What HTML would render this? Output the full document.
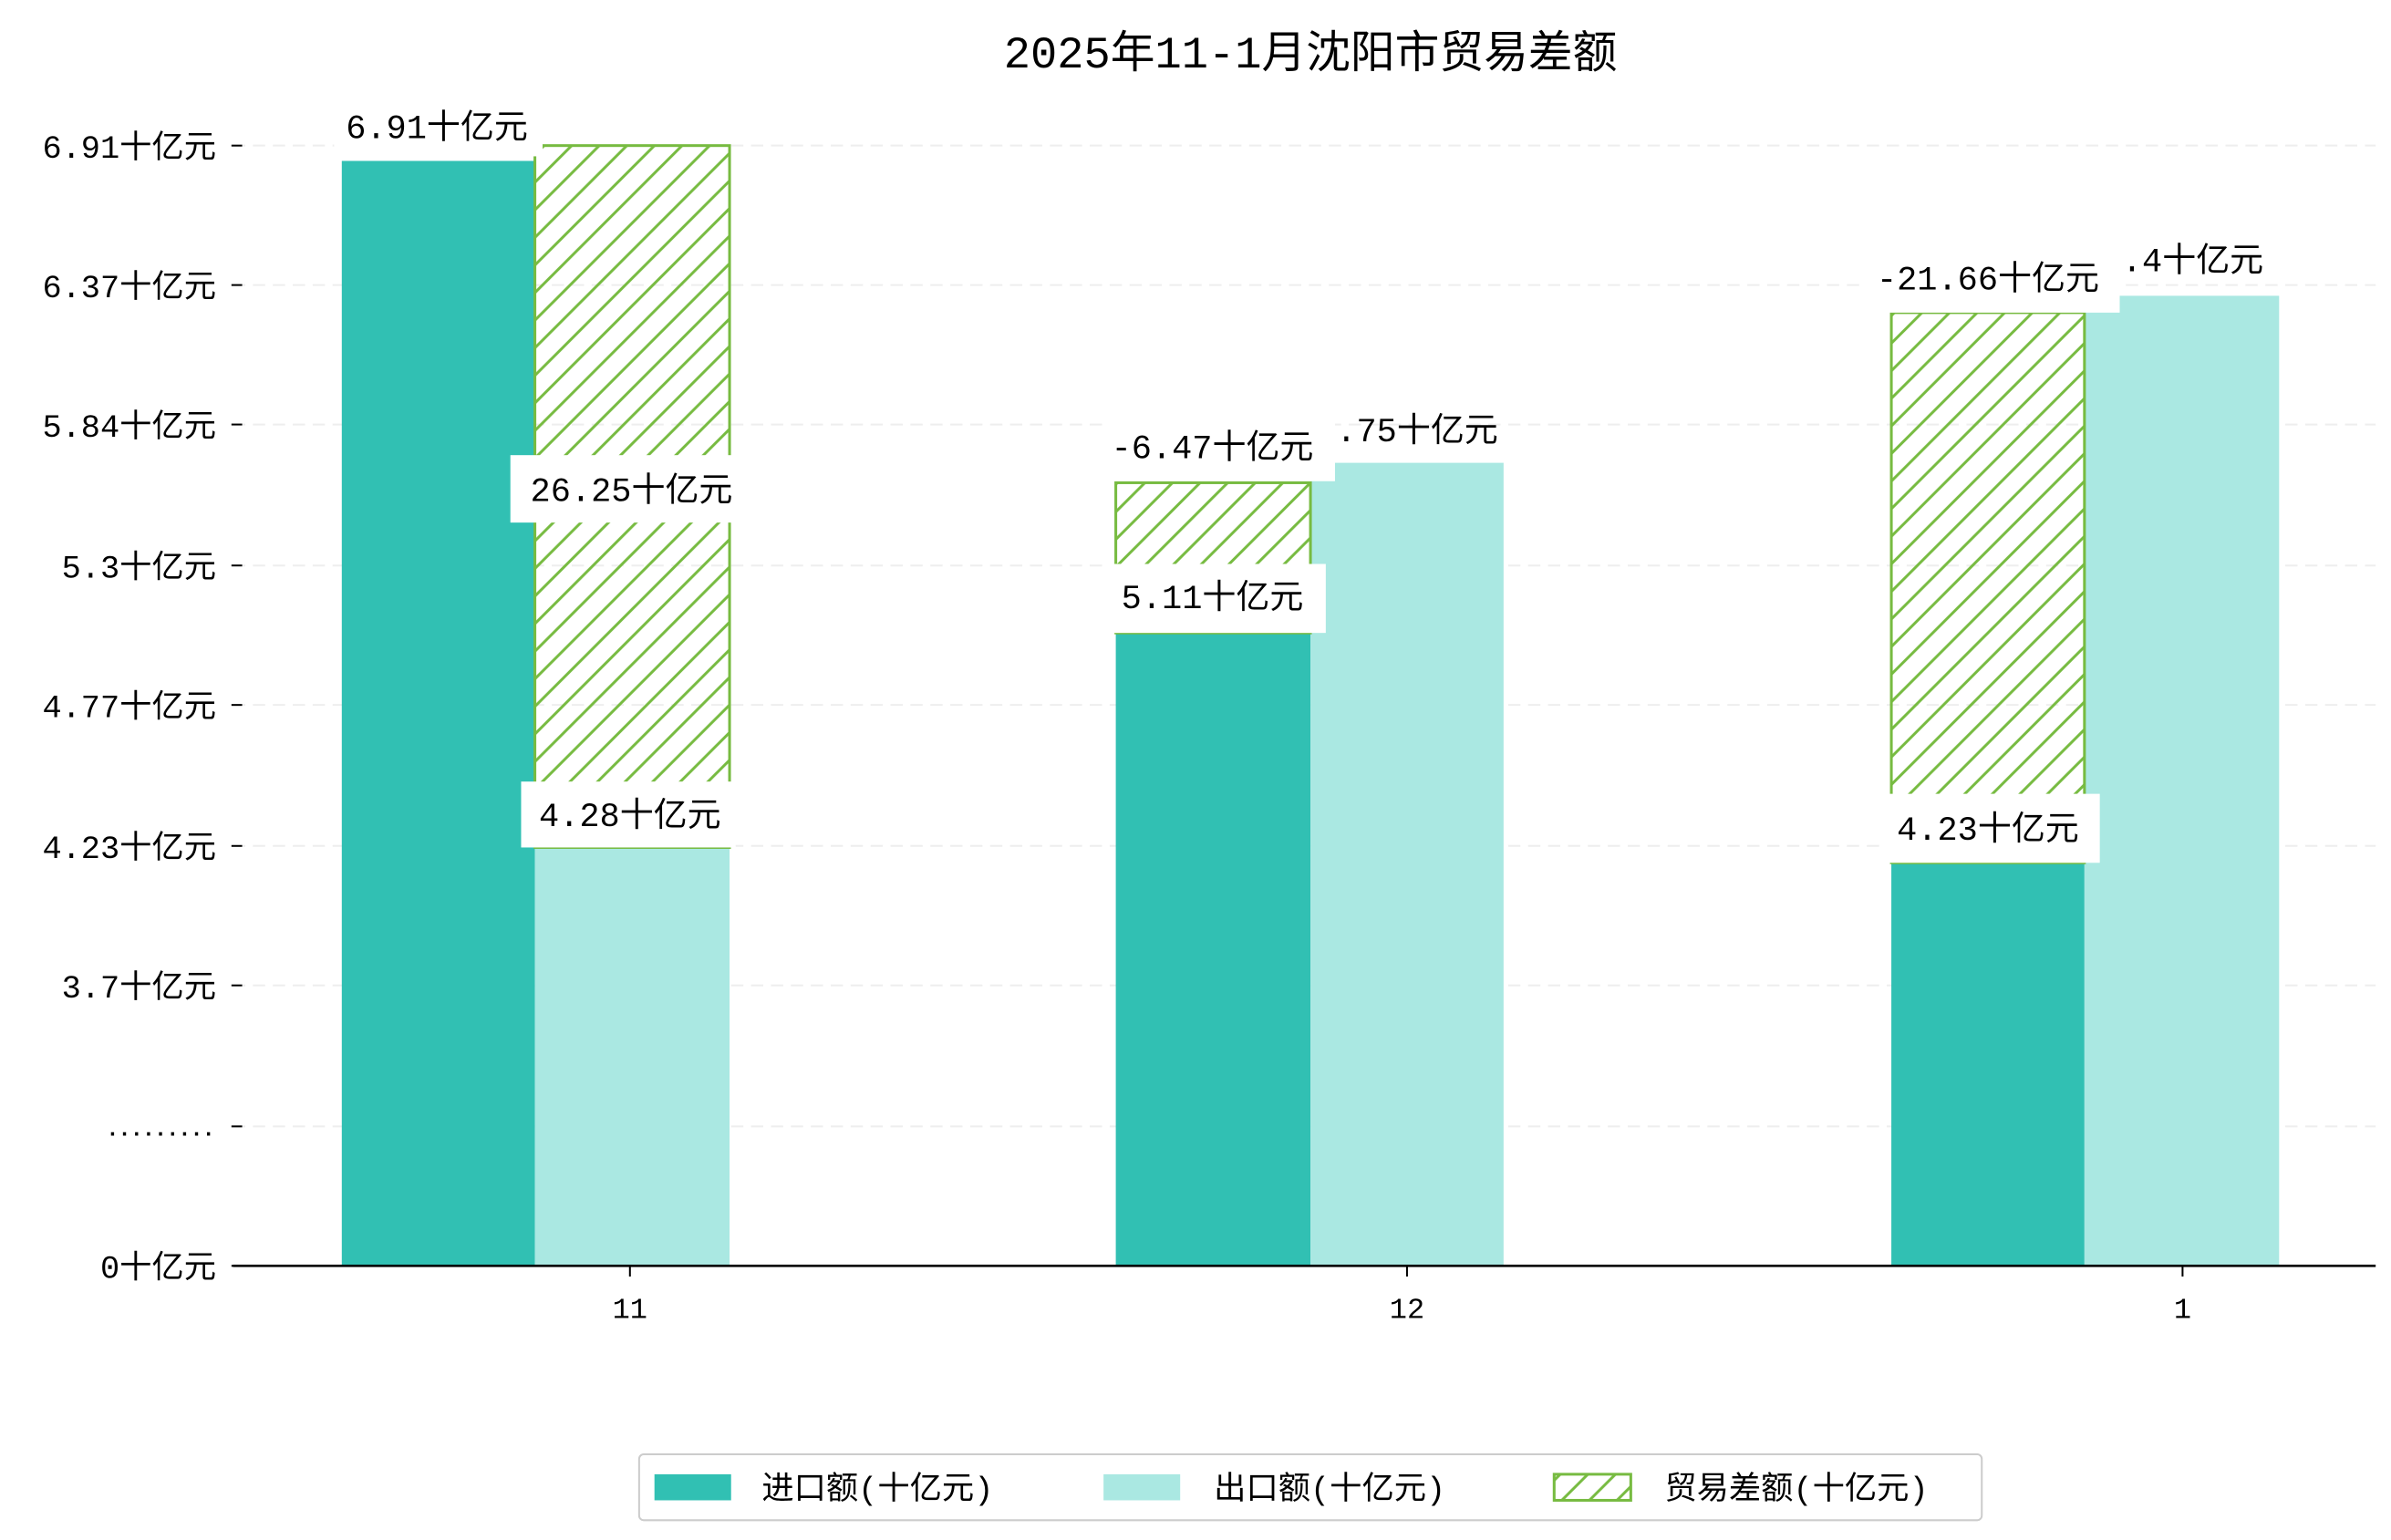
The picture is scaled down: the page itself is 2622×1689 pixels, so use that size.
<!DOCTYPE html>
<html><head><meta charset="utf-8"><style>
html,body{margin:0;padding:0;background:#fff;}
svg{display:block;}
text{font-family:"Liberation Mono","WenQuanYi Zen Hei","Noto Sans CJK SC",monospace;fill:#000;}
</style></head><body>
<svg width="2622" height="1689" viewBox="0 0 1560 1004.9" preserveAspectRatio="none" xmlns="http://www.w3.org/2000/svg">
<defs>
<pattern id="h" patternUnits="userSpaceOnUse" width="18" height="18">
<path d="M-2,20 L20,-2 M-20,20 L2,-2 M16,20 L38,-2" stroke="#77bb41" stroke-width="1.8"/>
</pattern>
</defs>
<rect width="1560" height="1005" fill="#fff"/>
<text x="855" y="44" font-size="29" text-anchor="middle">2025年11-1月沈阳市贸易差额</text>
<g stroke="#eeeeee" stroke-width="1.2" stroke-dasharray="8,5">
<line x1="152" y1="95" x2="1550" y2="95"/><line x1="152" y1="186" x2="1550" y2="186"/>
<line x1="152" y1="277" x2="1550" y2="277"/><line x1="152" y1="369" x2="1550" y2="369"/>
<line x1="152" y1="460" x2="1550" y2="460"/><line x1="152" y1="552" x2="1550" y2="552"/>
<line x1="152" y1="643" x2="1550" y2="643"/><line x1="152" y1="735" x2="1550" y2="735"/>
</g>
<g font-size="21" text-anchor="end">
<text x="141" y="103">6.91十亿元</text><text x="141" y="194">6.37十亿元</text>
<text x="141" y="285">5.84十亿元</text><text x="141" y="377">5.3十亿元</text>
<text x="141" y="468">4.77十亿元</text><text x="141" y="560">4.23十亿元</text>
<text x="141" y="651">3.7十亿元</text>
<text x="141" y="741" style="font-family:'Liberation Sans',sans-serif;letter-spacing:2px">.........</text>
<text x="141" y="834">0十亿元</text>
</g>
<g stroke="#000" stroke-width="1.2">
<line x1="151" y1="95" x2="158" y2="95"/><line x1="151" y1="186" x2="158" y2="186"/>
<line x1="151" y1="277" x2="158" y2="277"/><line x1="151" y1="369" x2="158" y2="369"/>
<line x1="151" y1="460" x2="158" y2="460"/><line x1="151" y1="552" x2="158" y2="552"/>
<line x1="151" y1="643" x2="158" y2="643"/><line x1="151" y1="735" x2="158" y2="735"/>
<line x1="151" y1="826" x2="158" y2="826"/>
<line x1="411" y1="826" x2="411" y2="833"/><line x1="918" y1="826" x2="918" y2="833"/><line x1="1424" y1="826" x2="1424" y2="833"/>
</g>
<rect x="223" y="105" width="126" height="721" fill="#31c0b3"/>
<rect x="349" y="553" width="127" height="273" fill="#aae8e2"/>
<rect x="349" y="95" width="127" height="458" fill="url(#h)" stroke="#77bb41" stroke-width="1.8"/>
<rect x="728" y="413" width="127" height="413" fill="#31c0b3"/>
<rect x="855" y="302" width="126" height="524" fill="#aae8e2"/>
<rect x="728" y="315" width="127" height="98" fill="url(#h)" stroke="#77bb41" stroke-width="1.8"/>
<rect x="1234" y="563" width="126" height="263" fill="#31c0b3"/>
<rect x="1360" y="193" width="127" height="633" fill="#aae8e2"/>
<rect x="1234" y="204" width="126" height="359" fill="url(#h)" stroke="#77bb41" stroke-width="1.8"/>
<line x1="152" y1="826" x2="1550" y2="826" stroke="#000" stroke-width="1.5"/>
<g font-size="19" text-anchor="middle">
<text x="411" y="860">11</text><text x="918" y="860">12</text><text x="1424" y="860">1</text>
</g>
<g font-size="22" text-anchor="middle">
<rect x="218" y="62" width="136" height="40" fill="#fff"/>
<text x="285" y="90">6.91十亿元</text>
<rect x="333" y="297" width="148" height="44" fill="#fff"/>
<text x="412" y="327">26.25十亿元</text>
<rect x="340" y="510" width="140" height="43" fill="#fff"/>
<text x="411" y="539">4.28十亿元</text>
<text x="918" y="288">5.75十亿元</text>
<rect x="720" y="270" width="151" height="44" fill="#fff"/>
<text x="791" y="299">-6.47十亿元</text>
<rect x="722" y="368" width="143" height="45" fill="#fff"/>
<text x="791" y="397">5.11十亿元</text>
<text x="1424" y="177">6.4十亿元</text>
<rect x="1215" y="160" width="168" height="44" fill="#fff"/>
<text x="1297" y="189">-21.66十亿元</text>
<rect x="1228" y="518" width="142" height="45" fill="#fff"/>
<text x="1297" y="548">4.23十亿元</text>
</g>
<rect x="417" y="949" width="876" height="43" fill="#fff" stroke="#cccccc" stroke-width="1.2" rx="3"/>
<rect x="427" y="962" width="50" height="17" fill="#31c0b3"/>
<rect x="720" y="962" width="50" height="17" fill="#aae8e2"/>
<rect x="1014" y="962" width="50" height="17" fill="url(#h)" stroke="#77bb41" stroke-width="1.8"/>
<g font-size="21">
<text x="497" y="978">进口额(十亿元)</text>
<text x="792" y="978">出口额(十亿元)</text>
<text x="1086" y="978">贸易差额(十亿元)</text>
</g>
</svg>
</body></html>
